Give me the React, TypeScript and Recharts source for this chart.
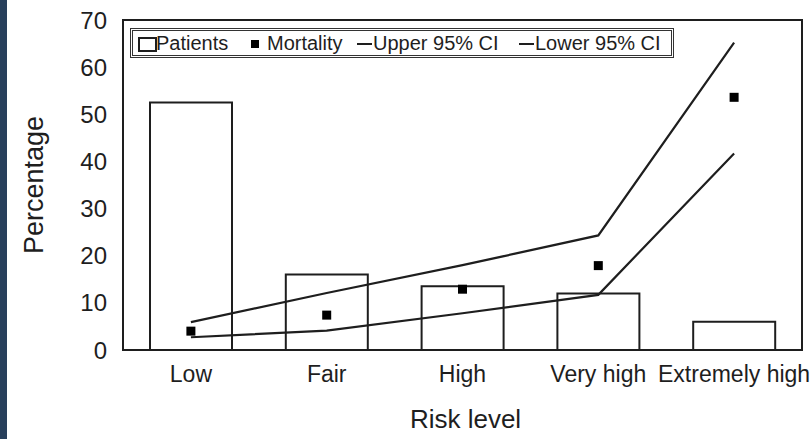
import React from "react";
import {
  ComposedChart,
  Bar,
  Line,
  Scatter,
  XAxis,
  YAxis,
  ReferenceArea,
} from "recharts";

const riskLevels = ["Low", "Fair", "High", "Very high", "Extremely high"];
const patients = [52.5, 16, 13.5, 12, 6];
const mortality = [4, 7.4, 12.9, 17.9, 53.6];
const upperCI = [5.9, 12.1, 18, 24.3, 65.2];
const lowerCI = [2.7, 4.1, 7.8, 11.7, 41.7];
const yTicks = [0, 10, 20, 30, 40, 50, 60, 70];

const data = riskLevels.map((level, i) => ({
  level,
  patients: patients[i],
  mortality: mortality[i],
  upper: upperCI[i],
  lower: lowerCI[i],
}));

const ink = "#1e1e1e";
const font = '"Liberation Sans", Arial, Helvetica, sans-serif';

const SquareDot = (props: any) => {
  const { cx, cy } = props;
  if (cx == null || cy == null) return null;
  return <rect x={cx - 4.5} y={cy - 4.5} width={9} height={9} fill="#000" />;
};

const YLabel = (props: any) => {
  const vb = props.viewBox || { x: 0, y: 20, height: 330 };
  const x = 34;
  const y = vb.y + vb.height / 2;
  return (
    <text
      x={x}
      y={y}
      transform={`rotate(-90 ${x} ${y})`}
      textAnchor="middle"
      dominantBaseline="central"
      fontSize={27}
      fill={ink}
      fontFamily={font}
    >
      Percentage
    </text>
  );
};

const XLabel = (props: any) => {
  const vb = props.viewBox || { x: 123, width: 679 };
  return (
    <text
      x={vb.x + vb.width / 2 + 3}
      y={428}
      textAnchor="middle"
      fontSize={26}
      fill={ink}
      fontFamily={font}
    >
      Risk level
    </text>
  );
};

const legendText: React.CSSProperties = {
  position: "absolute",
  top: 1,
  fontSize: 20,
  lineHeight: "22px",
  color: ink,
  fontFamily: font,
  whiteSpace: "nowrap",
};

function LegendBox() {
  return (
    <div
      style={{
        position: "absolute",
        left: 130,
        top: 28,
        width: 538,
        height: 24,
        border: "3px double #333",
        background: "#fff",
      }}
    >
      <div style={{ position: "absolute", left: 5, top: 6, width: 15, height: 11, border: `2px solid ${ink}` }} />
      <span style={{ ...legendText, left: 23 }}>Patients</span>
      <div style={{ position: "absolute", left: 118, top: 9, width: 8, height: 8, background: "#000" }} />
      <span style={{ ...legendText, left: 134 }}>Mortality</span>
      <div style={{ position: "absolute", left: 224, top: 12, width: 15, height: 2, background: ink }} />
      <span style={{ ...legendText, left: 240 }}>Upper 95% CI</span>
      <div style={{ position: "absolute", left: 386, top: 12, width: 15, height: 2, background: ink }} />
      <span style={{ ...legendText, left: 402 }}>Lower 95% CI</span>
    </div>
  );
}

export default function App() {
  return (
    <div
      style={{
        position: "fixed",
        left: 0,
        top: 0,
        width: 810,
        height: 439,
        background: "#fff",
        overflow: "hidden",
      }}
    >
      <div style={{ position: "absolute", left: 0, top: 0, width: 7, height: 439, background: "#28405c" }} />
      <ComposedChart
        width={810}
        height={439}
        data={data}
        margin={{ top: 20, right: 8, bottom: 0, left: 0 }}
      >
        <XAxis
          dataKey="level"
          interval={0}
          height={89}
          tickLine={false}
          tickSize={6}
          tickMargin={10}
          axisLine={{ stroke: ink, strokeWidth: 2 }}
          tick={{ fontSize: 23, fill: ink, fontFamily: font }}
          label={<XLabel />}
        />
        <YAxis
          width={123}
          domain={[0, 70]}
          ticks={yTicks}
          interval={0}
          tickLine={false}
          tickSize={6}
          tickMargin={10}
          axisLine={{ stroke: ink, strokeWidth: 2 }}
          tick={{ fontSize: 24, fill: ink, fontFamily: font }}
          label={<YLabel />}
        />
        <ReferenceArea y1={0} y2={70} fill="none" stroke={ink} strokeWidth={2} ifOverflow="visible" />
        <Bar
          dataKey="patients"
          name="Patients"
          barSize={82}
          fill="#fff"
          stroke={ink}
          strokeWidth={2}
          isAnimationActive={false}
        />
        <Line
          type="linear"
          dataKey="upper"
          name="Upper 95% CI"
          stroke={ink}
          strokeWidth={2.2}
          dot={false}
          isAnimationActive={false}
        />
        <Line
          type="linear"
          dataKey="lower"
          name="Lower 95% CI"
          stroke={ink}
          strokeWidth={2.2}
          dot={false}
          isAnimationActive={false}
        />
        <Scatter dataKey="mortality" name="Mortality" shape={<SquareDot />} isAnimationActive={false} />
      </ComposedChart>
      <LegendBox />
    </div>
  );
}
